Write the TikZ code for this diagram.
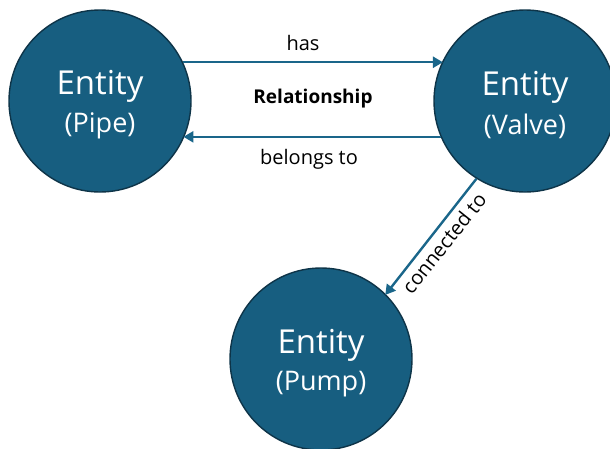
\documentclass[tikz,border=0pt]{standalone}
\usepackage{fontspec}
\setmainfont{Open Sans}
\usetikzlibrary{arrows.meta}
\definecolor{entfill}{RGB}{23,94,128}
\definecolor{entline}{RGB}{14,52,72}
\definecolor{relline}{RGB}{26,102,138}
\tikzset{
  entity/.style={circle, draw=entline, line width=1.4pt, fill=entfill,
    minimum size=182pt, inner sep=0pt, text=white, align=center},
  rel/.style={draw=relline, line width=2.4pt,
    -{Triangle[length=10pt,width=11pt]}, shorten >=-1pt},
  rellabel/.style={font=\fontsize{20}{24}\selectfont, text=black, inner sep=1pt},
}
% two-line entity caption; the strut lowers the block slightly
\newcommand{\entitytext}[1]{{\fontsize{33}{39}\selectfont\rule{0pt}{32pt}Entity}\\[9pt]
  {\fontsize{27}{39}\selectfont (#1)}}
\begin{document}
\begin{tikzpicture}[x=1pt,y=-1pt]
  \useasboundingbox (0,0) rectangle (610,448);
  \clip (0,0) rectangle (610,448);
  % the three entities
  \node[entity] (pipe)  at (100,101) {\entitytext{Pipe}};
  \node[entity] (valve) at (525,101) {\entitytext{Valve}};
  \node[entity] (pump)  at (321,359) {\entitytext{Pump}};
  % relationships between them
  \draw[rel] (pipe.25) -- (valve.155);
  \draw[rel] (valve.-157) -- (pipe.-23);
  \draw[rel] (valve.238) -- (pump.45);
  % labels
  \node[rellabel] (has) at (303,43) {has};
  \node[rellabel, font=\fontsize{19}{22}\selectfont\bfseries] (relname) at (313,99) {Relationship};
  \node[rellabel] (belongs) at (309,159) {belongs to};
  \node[rellabel, rotate=51.5] (conn) at (444,243) {connected to};
\end{tikzpicture}
\end{document}
